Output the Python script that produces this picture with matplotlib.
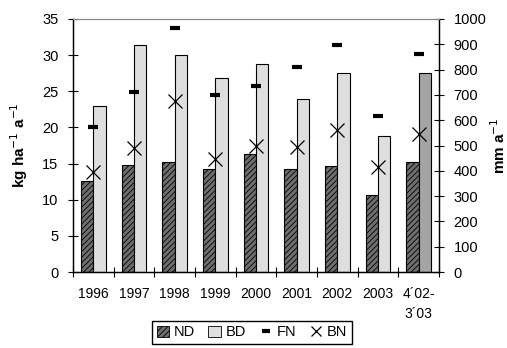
import matplotlib

matplotlib.use("Agg")
import matplotlib.pyplot as plt
import numpy as np
from matplotlib.lines import Line2D
from matplotlib.patches import Patch

plt.rcParams["font.family"] = ["Liberation Sans", "DejaVu Sans"]
plt.rcParams["hatch.linewidth"] = 0.6

years = ["1996", "1997", "1998", "1999", "2000", "2001", "2002", "2003", "4´02-\n3´03"]
nd_kg = [12.6, 14.8, 15.2, 14.3, 16.3, 14.3, 14.7, 10.7, 15.2]
bd_kg = [23.0, 31.4, 30.0, 26.9, 28.8, 24.0, 27.5, 18.8, 27.5]
fn_mm = [574, 710, 963, 698, 736, 811, 898, 618, 860]
bn_mm = [396, 491, 676, 445, 499, 493, 561, 414, 545]

x = np.arange(len(years))
width = 0.3

fig = plt.figure(figsize=(5.07, 3.48), dpi=100)
ax = fig.add_axes([73 / 507, 1 - 272 / 348, (439 - 73) / 507, (272 - 19) / 348])
ax2 = ax.twinx()

ax.bar(x - width / 2, nd_kg, width, facecolor="#6e6e6e", edgecolor="black",
       hatch="//////", linewidth=0.8, zorder=2)
bd_colors = ["#dedede"] * (len(years) - 1) + ["#a4a4a4"]
ax.bar(x + width / 2, bd_kg, width, color=bd_colors, edgecolor="black",
       linewidth=0.8, zorder=2)

ax2.plot(x, fn_mm, linestyle="none", marker="_", markersize=7.5,
         markeredgewidth=3, color="black", zorder=3)
ax2.plot(x, bn_mm, linestyle="none", marker="x", markersize=10,
         markeredgewidth=0.9, color="black", zorder=3)

ax.set_xlim(-0.5, len(years) - 0.5)
ax.set_ylim(0, 35)
ax2.set_ylim(0, 1000)
ax.set_yticks(np.arange(0, 36, 5))
ax2.set_yticks(np.arange(0, 1001, 100))

ax.set_xticks(np.arange(-0.5, len(years)), labels=[])
ax.set_xticks(x, labels=years, minor=True)
for label in ax.get_xticklabels(minor=True):
    label.set_linespacing(1.5)
ax.tick_params(axis="x", which="major", direction="inout", length=7, width=0.8)
ax.tick_params(axis="x", which="minor", length=0, labelsize=10, pad=11)
ax.tick_params(axis="y", direction="inout", length=7, width=0.8, labelsize=10.5, pad=7)
ax2.tick_params(axis="y", direction="inout", length=7, width=0.8, labelsize=10.5, pad=7)

for axis in (ax, ax2):
    for side in ("left", "right", "bottom"):
        axis.spines[side].set_linewidth(0.9)
    axis.spines["top"].set_color("#888888")
    axis.spines["top"].set_linewidth(0.8)

ax.set_ylabel("kg ha$^{-1}$ a$^{-1}$", fontsize=11, fontweight="bold", labelpad=9)
ax2.set_ylabel("mm a$^{-1}$", fontsize=11, fontweight="bold", labelpad=2)

handles = [
    Patch(facecolor="#6e6e6e", edgecolor="black", hatch="//////", linewidth=0.6),
    Patch(facecolor="#dedede", edgecolor="black", linewidth=0.6),
    Line2D([], [], linestyle="none", marker="_", markersize=6,
           markeredgewidth=3, color="black"),
    Line2D([], [], linestyle="none", marker="x", markersize=7,
           markeredgewidth=0.9, color="black"),
]
fig.legend(handles, ["ND", "BD", "FN", "BN"], ncol=4, loc="upper center",
           bbox_to_anchor=(252 / 507, 1 - 321 / 348), fontsize=10.5,
           frameon=True, fancybox=False, edgecolor="black", framealpha=1,
           handlelength=0.85, handleheight=0.8, handletextpad=0.35,
           columnspacing=0.9, borderpad=0.3, borderaxespad=0)

fig.savefig("out.png", dpi=100)
